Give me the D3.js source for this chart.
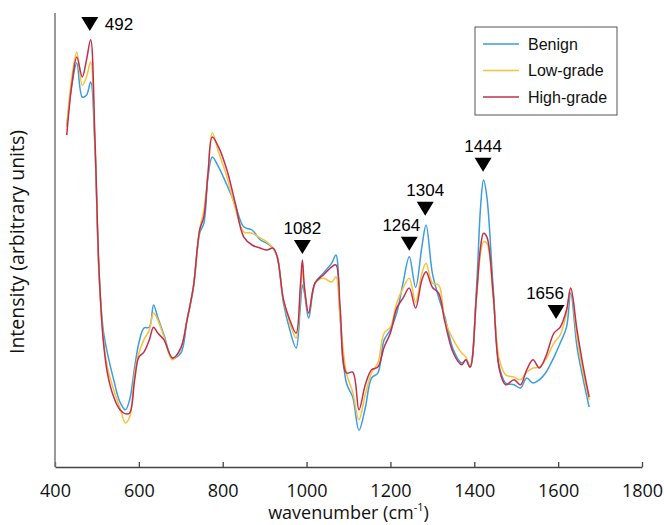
<!DOCTYPE html>
<html lang="en">
<head>
    <meta charset="UTF-8">
    <script src="https://d3js.org/d3.v7.min.js"></script>
    <title>Raman spectra</title>
    <style>
        body{ margin:0; background:#fff; }
        .tick text{ font-family:"Open Sans", "Liberation Sans", sans-serif; }
    </style>
</head>
<body>
    <script>
        // wavenumber grid (cm-1) shared by all three mean spectra
        var wavenumber = [428,440,452,465,475,485,495,505,515,525,
            540,555,568,578,590,600,612,625,635,645,
            660,680,700,715,730,745,755,765,775,790,
            810,830,850,870,890,905,920,930,945,960,
            975,985,990,995,1005,1020,1040,1060,1070,1080,
            1095,1110,1125,1140,1155,1170,1185,1200,1215,1230,
            1245,1260,1275,1285,1300,1315,1330,1350,1370,1380,
            1390,1405,1415,1422,1430,1445,1460,1475,1495,1510,
            1525,1540,1555,1570,1590,1605,1620,1630,1645,1660,1674];

        var benign = [74.9,84.1,89.0,81.5,81.9,84.8,70.9,42.7,30.2,25.1,
            19.2,14.3,12.6,14.8,22.0,27.3,30.6,30.8,35.7,33.0,
            29.1,24.0,25.1,32.4,39.6,51.5,53.7,63.9,68.3,66.1,
            62.1,57.7,52.9,52.2,50.0,49.3,48.2,46.3,36.1,30.2,
            26.2,35.2,40.1,38.3,32.8,40.5,42.7,44.9,46.7,33.0,
            18.5,15.4,8.1,13.0,19.6,20.7,28.0,30.2,33.9,40.5,
            46.3,39.6,48.5,53.3,42.7,37.4,33.0,25.8,22.9,23.6,
            22.0,39.0,57.3,63.2,59.5,39.6,22.0,18.5,18.1,17.4,
            19.6,18.5,19.2,20.7,24.2,27.3,30.8,38.3,26.4,19.2,13.2];

        var lowGrade = [74.9,85.7,91.4,84.1,85.9,89.2,72.0,42.7,28.6,22.0,
            17.0,13.0,9.7,11.0,20.7,25.1,28.0,30.2,33.9,32.4,
            28.6,23.6,26.2,32.4,39.6,52.2,56.6,64.8,73.6,69.4,
            63.9,57.0,51.8,51.5,50.4,49.6,48.2,46.3,36.8,31.7,
            28.4,38.3,43.4,39.0,33.9,40.5,41.6,40.7,41.9,33.0,
            20.7,16.5,10.4,15.9,20.7,22.9,29.5,30.8,36.1,39.4,
            41.6,36.3,42.7,44.9,40.5,40.1,32.4,28.0,25.1,24.2,
            22.0,36.8,47.1,49.6,49.3,37.4,23.6,20.3,19.8,19.2,
            20.9,21.8,22.0,23.6,27.3,29.1,33.9,39.4,28.6,20.7,14.8];

        var highGrade = [73.1,84.1,90.3,85.9,89.6,94.1,73.1,43.4,28.0,20.7,
            15.4,12.6,11.7,11.9,19.2,24.2,25.3,28.0,30.8,29.5,
            28.0,24.0,26.2,32.4,39.6,52.2,55.1,64.8,72.7,70.5,
            65.4,58.1,50.7,48.9,48.2,47.8,48.2,46.3,36.8,32.4,
            29.5,39.6,45.6,39.6,33.9,40.5,42.3,44.1,44.5,35.2,
            20.7,20.9,12.6,18.1,21.4,22.0,26.4,29.5,35.0,37.2,
            39.4,35.0,41.2,43.0,39.6,38.3,31.9,25.1,22.5,23.6,
            22.0,37.4,48.5,51.5,50.7,38.3,21.4,18.1,19.2,18.1,
            21.4,23.6,21.8,24.2,29.5,30.8,34.6,39.4,30.2,22.0,15.4];

        var seriesNames = ["Benign","Low-grade","High-grade"];
        var seriesColors = ["#3b9de2","#f6c23e","#c0304e"];

        // annotated bands: label, marker wavenumber, marker height (a.u.)
        var peakLabels = ["492","1082","1264","1304","1444","1656"];
        var peakWn = [483,990,1245,1283,1421,1595];
        var peakLevel = [99.1,50.0,50.7,58.4,68.1,35.7];

        var xTicks = [400,600,800,1000,1200,1400,1600,1800];

        var width=664, height=525;
        var plotLeft=55, plotRight=642, plotTop=13, plotBottom=467;

        var xScale = d3.scaleLinear().domain([400,1800]).range([plotLeft,plotRight]);
        var yScale = d3.scaleLinear().domain([0,100]).range([plotBottom,plotTop]);

        var svg = d3.select("body").append("svg").attr("width",width).attr("height",height);

        // x axis with inward ticks
        var xAxis = d3.axisBottom(xScale).tickValues(xTicks).tickSize(-5).tickSizeOuter(0).tickFormat(d3.format("d"));
        var gx = svg.append("g").attr("transform","translate(0,"+plotBottom+")").call(xAxis);
        gx.select(".domain").attr("stroke","#444").attr("stroke-width",1.3);
        gx.selectAll(".tick line").attr("stroke","#444").attr("stroke-width",1.3);
        gx.selectAll(".tick text").attr("y",17).attr("font-size",18).attr("fill","#111");

        // y axis is a bare line
        svg.append("line").attr("x1",plotLeft).attr("x2",plotLeft).attr("y1",plotTop).attr("y2",plotBottom)
            .attr("stroke","#777").attr("stroke-width",1.5);

        var series = [benign,lowGrade,highGrade];
        var line = d3.line()
            .x((d,i)=>xScale(wavenumber[i]))
            .y((d)=>yScale(d))
            .curve(d3.curveCatmullRom.alpha(0.5));

        series.forEach(function(s,k){
            if(s.length!=wavenumber.length) throw new Error("length mismatch "+seriesNames[k]);
            svg.append("path").datum(s)
                .attr("d",line)
                .attr("fill","none")
                .attr("stroke",seriesColors[k])
                .attr("stroke-width",1.5);
        });

        // peak markers
        var labelShift = {"1264":-8,"1656":-11};
        peakLabels.forEach(function(lab,i){
            var px = xScale(peakWn[i]), py = yScale(peakLevel[i]);
            svg.append("path")
                .attr("d","M"+(px-8.5)+","+py+" h17 l-8.5,14 z")
                .attr("fill","#000");
            var t = svg.append("text")
                .attr("font-family","'Liberation Sans', Arial, sans-serif")
                .attr("font-size",17).attr("fill","#000")
                .text(lab);
            if(i==0){
                t.attr("x",px+15).attr("y",py+13).attr("text-anchor","start");
            } else {
                t.attr("x",px+(labelShift[lab]||0)).attr("y",py-6).attr("text-anchor","middle");
            }
        });

        // legend
        var lg = svg.append("g");
        lg.append("rect").attr("x",475).attr("y",27).attr("width",142).attr("height",88)
            .attr("fill","#fff").attr("stroke","#555").attr("stroke-width",1);
        seriesNames.forEach(function(n,k){
            var ly = 44+k*26.5;
            lg.append("line").attr("x1",483).attr("x2",519).attr("y1",ly).attr("y2",ly)
                .attr("stroke",seriesColors[k]).attr("stroke-width",1.5);
            lg.append("text").attr("x",528).attr("y",ly).attr("dy","0.35em")
                .attr("font-family","'Liberation Sans', Arial, sans-serif")
                .attr("font-size",16).attr("fill","#111").text(n);
        });

        // axis titles
        var xl = svg.append("text").attr("x",(plotLeft+plotRight)/2).attr("y",519)
            .attr("text-anchor","middle")
            .attr("font-family","'Open Sans', sans-serif").attr("font-size",18).attr("fill","#111");
        xl.append("tspan").text("wavenumber (cm");
        xl.append("tspan").attr("font-size",11).attr("dy",-8).text("-1");
        xl.append("tspan").attr("dy",8).text(")");

        svg.append("text")
            .attr("transform","translate(24,"+242+") rotate(-90)")
            .attr("text-anchor","middle")
            .attr("font-family","'Open Sans', sans-serif").attr("font-size",19.5).attr("fill","#111")
            .text("Intensity (arbitrary units)");
    </script>
</body>
</html>
